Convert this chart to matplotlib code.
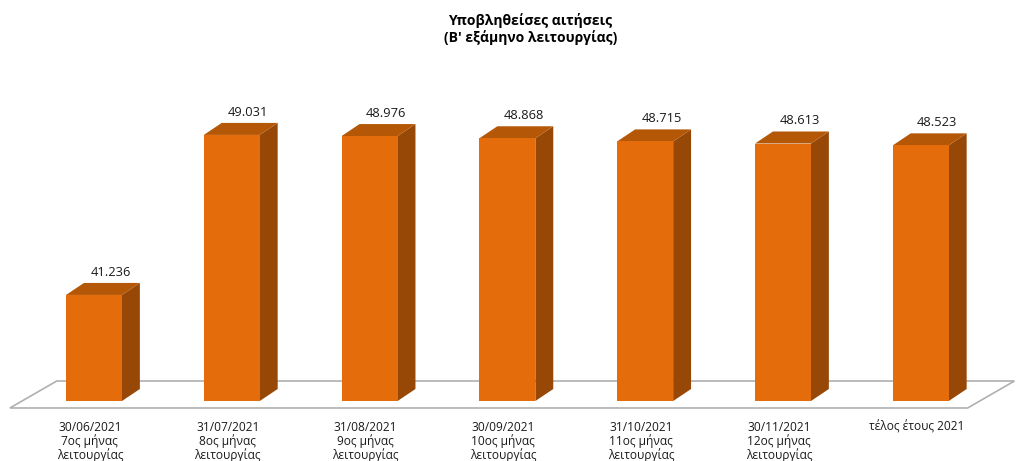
import matplotlib.pyplot as plt
from matplotlib.patches import Polygon

# === Data ===
categories = [
    "30/06/2021\n7ος μήνας\nλειτουργίας",
    "31/07/2021\n8ος μήνας\nλειτουργίας",
    "31/08/2021\n9ος μήνας\nλειτουργίας",
    "30/09/2021\n10ος μήνας\nλειτουργίας",
    "31/10/2021\n11ος μήνας\nλειτουργίας",
    "30/11/2021\n12ος μήνας\nλειτουργίας",
    "τέλος έτους 2021",
]
applications = [41236, 49031, 48976, 48868, 48715, 48613, 48523]

# === Style ===
front_color = "#E46C0A"
side_color = "#974806"
top_color = "#B45808"
base = 36070
bar_width = 0.406
depth_x = 0.13
depth_y = 585

plt.rcParams['font.family'] = ['Open Sans', 'DejaVu Sans']

fig = plt.figure(figsize=(10.16, 4.61), dpi=100)
ax = fig.add_axes([0, 0, 1, 1])
ax.set_xlim(-0.682, 6.691)
ax.set_ylim(33148, 55603)
ax.axis("off")

# floor
floor = Polygon([(-0.61, 35730), (6.34, 35730), (6.68, 37045), (-0.27, 37045)],
                closed=True, facecolor="white", edgecolor="#B0B0B0", linewidth=1.2, zorder=1)
ax.add_patch(floor)

x = list(range(len(categories)))
ax.bar(x, [v - base for v in applications], bottom=base, width=bar_width,
       color=front_color, zorder=3)

for i, v in zip(x, applications):
    left = i - bar_width / 2
    right = i + bar_width / 2
    side = Polygon([(right, base), (right + depth_x, base + depth_y),
                    (right + depth_x, v + depth_y), (right, v)],
                   closed=True, facecolor=side_color, edgecolor="none", zorder=2)
    top = Polygon([(left, v), (right, v), (right + depth_x, v + depth_y),
                   (left + depth_x, v + depth_y)],
                  closed=True, facecolor=top_color, edgecolor="none", zorder=2)
    ax.add_patch(side)
    ax.add_patch(top)
    label = f"{v:,}".replace(",", ".")
    ax.text(i + 0.12, v + depth_y + 200, label, ha="center", va="bottom",
            fontsize=9.3, color="#1a1a1a", zorder=4)
    ax.text(i - 0.03, 35120, categories[i], ha="center", va="top",
            fontsize=8.6, color="#1a1a1a", linespacing=1.02)

fig.text(0.522, 0.972, "Υποβληθείσες αιτήσεις\n(Β' εξάμηνο λειτουργίας)",
         ha="center", va="top", fontsize=10, fontweight="bold", linespacing=1.2)

fig.savefig("out.png", dpi=100)
